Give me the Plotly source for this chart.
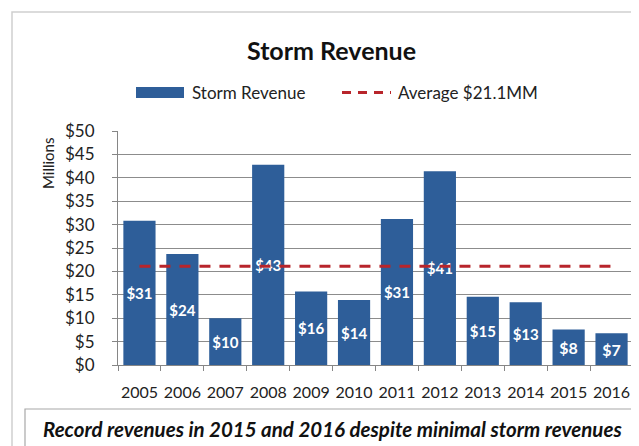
import plotly.graph_objects as go

years = ["2005", "2006", "2007", "2008", "2009", "2010",
         "2011", "2012", "2013", "2014", "2015", "2016"]
revenue = [30.8, 23.7, 10.0, 42.8, 15.7, 13.9, 31.2, 41.4, 14.6, 13.4, 7.6, 6.8]
bar_labels = ["$31", "$24", "$10", "$43", "$16", "$14",
              "$31", "$41", "$15", "$13", "$8", "$7"]
average_value = 21.1
average = [average_value] * len(years)
y_ticks = [0, 5, 10, 15, 20, 25, 30, 35, 40, 45, 50]
y_tick_labels = ["$0", "$5", "$10", "$15", "$20", "$25", "$30", "$35", "$40", "$45", "$50"]

BAR_COLOR = "#2E5E99"
LINE_COLOR = "#B8252B"
FONT = "Lato"

W, H = 639, 446
L, R, T, B = 110, 625, 123, 357


def px(x):
    return (x - L) / (R - L)


def py(y):
    return (B - y) / (B - T)


fig = go.Figure()
fig.add_trace(go.Bar(
    x=years, y=revenue, text=bar_labels, textposition="inside",
    insidetextanchor="middle", marker=dict(color=BAR_COLOR, line=dict(width=0)),
    textfont=dict(color="white", size=16, family=FONT, weight="bold"),
    textangle=0, name="Storm Revenue", showlegend=False,
))
fig.add_trace(go.Scatter(
    x=years, y=average, mode="lines",
    line=dict(color=LINE_COLOR, width=3, dash="11px,9px"),
    name="Average $21.1MM", showlegend=False,
))

shapes = [
    # outer chart border
    dict(type="rect", xref="paper", yref="paper",
         x0=px(4), x1=px(635), y0=py(4), y1=py(445),
         line=dict(color="#CFCFCF", width=1.5), fillcolor="rgba(0,0,0,0)", layer="below"),
    # bottom note box
    dict(type="rect", xref="paper", yref="paper",
         x0=px(17), x1=px(627), y0=py(401), y1=py(441),
         line=dict(color="#A8A8A8", width=1.2), fillcolor="rgba(0,0,0,0)"),
    # legend: bar swatch
    dict(type="rect", xref="paper", yref="paper",
         x0=px(128), x1=px(176), y0=py(79), y1=py(90),
         line=dict(width=0), fillcolor=BAR_COLOR),
    # legend: dashed line swatch
    dict(type="line", xref="paper", yref="paper",
         x0=px(334), x1=px(383), y0=py(84.5), y1=py(84.5),
         line=dict(color=LINE_COLOR, width=3, dash="9px,7px")),
]

annotations = [
    dict(text="<b>Storm Revenue</b>", xref="paper", yref="paper",
         x=px(323), y=py(42), xanchor="center", yanchor="middle", showarrow=False,
         font=dict(family=FONT, size=25, color="#111111")),
    dict(text="Storm Revenue", xref="paper", yref="paper",
         x=px(182), y=py(84.5), xanchor="left", yanchor="middle", showarrow=False,
         font=dict(family=FONT, size=17, color="#222222")),
    dict(text="Average $21.1MM", xref="paper", yref="paper",
         x=px(388), y=py(84.5), xanchor="left", yanchor="middle", showarrow=False,
         font=dict(family=FONT, size=17, color="#222222")),
    dict(text="Millions", xref="paper", yref="paper",
         x=px(40), y=py(156), xanchor="center", yanchor="middle", showarrow=False,
         textangle=-90, font=dict(family=FONT, size=15, color="#222222")),
    dict(text="<b><i>Record revenues in 2015 and 2016 despite minimal storm revenues</i></b>",
         xref="paper", yref="paper",
         x=px(324), y=py(421), xanchor="center", yanchor="middle", showarrow=False,
         font=dict(family=FONT, size=20.5, color="#111111")),
]

fig.update_layout(
    width=W, height=H,
    margin=dict(l=L, r=W - R, t=T, b=H - B, pad=0),
    paper_bgcolor="white", plot_bgcolor="white",
    bargap=0.25, showlegend=False,
    font=dict(family=FONT, color="#222222"),
    shapes=shapes, annotations=annotations,
    xaxis=dict(
        type="category", showline=True, linecolor="#868686", linewidth=1,
        ticks="outside", tickson="boundaries", ticklen=5, tickcolor="#868686",
        tickangle=0, ticklabelstandoff=13,
        tickfont=dict(family=FONT, size=16, color="#222222"), showgrid=False,
    ),
    yaxis=dict(
        range=[0, 50], tickmode="array", tickvals=y_ticks, ticktext=y_tick_labels,
        showline=True, linecolor="#868686", linewidth=1,
        ticks="outside", ticklen=5, tickcolor="#868686", ticklabelstandoff=14,
        showgrid=True, gridcolor="#8C8C8C", gridwidth=1, zeroline=False,
        tickfont=dict(family=FONT, size=17, color="#222222"),
    ),
)

fig.write_html("out.html")
